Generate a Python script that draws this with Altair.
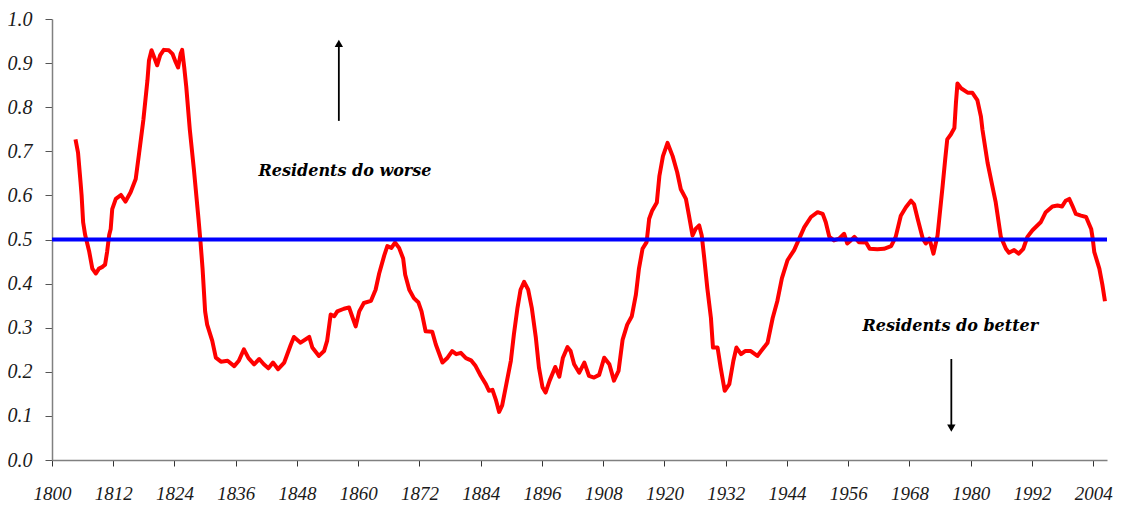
import altair as alt
import pandas as pd

years = [1804.6, 1805.1, 1805.6, 1805.8, 1806.1, 1806.5, 1807.3, 1807.9, 1808.6, 1809.2,
         1809.9, 1810.4, 1810.8, 1811.2, 1811.5, 1811.8, 1812.5, 1813.5, 1814.4, 1815.4,
         1816.4, 1817.0, 1817.9, 1818.7, 1819.0, 1819.5, 1820.0, 1820.6, 1821.2, 1821.9,
         1822.9, 1823.6, 1824.2, 1824.7, 1825.2, 1825.5, 1825.9, 1826.3, 1827.0, 1827.8,
         1828.7, 1829.1, 1829.5, 1830.0, 1830.4, 1831.4, 1832.1, 1833.1, 1834.4, 1835.7,
         1836.6, 1837.6, 1838.5, 1839.6, 1840.6, 1841.5, 1842.4, 1843.3, 1844.3, 1845.5,
         1846.8, 1847.4, 1848.7, 1850.4, 1851.0, 1852.3, 1853.3, 1853.9, 1854.6, 1855.3,
         1855.9, 1857.2, 1858.2, 1858.8, 1859.5, 1860.2, 1861.1, 1862.5, 1863.4, 1864.1,
         1865.1, 1865.7, 1866.5, 1867.2, 1868.0, 1868.8, 1869.2, 1870.0, 1870.9, 1871.8,
         1872.4, 1873.2, 1874.5, 1875.2, 1876.5, 1877.5, 1878.4, 1879.2, 1880.1, 1881.1,
         1882.1, 1883.0, 1884.0, 1885.0, 1885.6, 1886.3, 1887.0, 1887.6, 1888.2, 1888.9,
         1889.9, 1890.5, 1891.2, 1891.8, 1892.5, 1893.3, 1894.0, 1894.8, 1895.4, 1896.1,
         1896.7, 1897.5, 1898.6, 1899.4, 1900.1, 1901.0, 1901.6, 1902.3, 1903.3, 1904.3,
         1905.2, 1906.2, 1907.2, 1908.2, 1909.2, 1910.1, 1911.0, 1911.8, 1912.7, 1913.6,
         1914.4, 1915.0, 1915.7, 1916.5, 1917.0, 1917.6, 1918.5, 1919.0, 1919.7, 1920.6,
         1921.6, 1922.5, 1923.2, 1924.2, 1924.8, 1925.5, 1926.1, 1926.8, 1927.3, 1927.8,
         1928.4, 1929.1, 1929.5, 1930.4, 1931.0, 1931.8, 1932.7, 1933.5, 1934.1, 1935.0,
         1935.8, 1936.9, 1938.2, 1939.2, 1940.2, 1941.2, 1942.1, 1943.0, 1944.1, 1945.4,
         1946.4, 1947.4, 1948.7, 1950.0, 1951.0, 1951.6, 1952.3, 1953.2, 1954.2, 1955.2,
         1955.8, 1956.5, 1957.2, 1958.1, 1959.5, 1960.2, 1961.7, 1963.0, 1964.4, 1965.3,
         1966.3, 1967.3, 1968.3, 1968.9, 1969.6, 1970.6, 1971.2, 1971.9, 1972.7, 1973.5,
         1974.5, 1975.0, 1975.4, 1976.1, 1976.8, 1977.1, 1977.4, 1978.1, 1979.4, 1980.3,
         1981.3, 1982.0, 1982.3, 1983.3, 1984.1, 1984.9, 1985.9, 1986.9, 1987.5, 1988.5,
         1989.4, 1990.3, 1991.1, 1992.1, 1993.7, 1994.7, 1996.0, 1997.0, 1997.9, 1998.6,
         1999.3, 1999.9, 2000.6, 2001.6, 2002.6, 2003.6, 2003.9, 2004.2, 2005.2, 2005.8,
         2006.3]

values = [0.727, 0.697, 0.629, 0.600, 0.539, 0.510, 0.472, 0.434, 0.423, 0.434,
          0.438, 0.443, 0.472, 0.510, 0.524, 0.569, 0.592, 0.601, 0.586, 0.607,
          0.637, 0.690, 0.771, 0.861, 0.906, 0.929, 0.914, 0.895, 0.918, 0.930,
          0.929, 0.921, 0.903, 0.890, 0.921, 0.930, 0.891, 0.847, 0.749, 0.659,
          0.547, 0.494, 0.434, 0.337, 0.307, 0.270, 0.232, 0.223, 0.225, 0.213,
          0.225, 0.251, 0.231, 0.217, 0.229, 0.217, 0.208, 0.221, 0.206, 0.221,
          0.262, 0.279, 0.266, 0.279, 0.255, 0.236, 0.247, 0.270, 0.330, 0.326,
          0.337, 0.343, 0.346, 0.326, 0.303, 0.337, 0.356, 0.361, 0.386, 0.423,
          0.464, 0.485, 0.481, 0.493, 0.481, 0.457, 0.420, 0.386, 0.367, 0.357,
          0.337, 0.292, 0.291, 0.262, 0.221, 0.232, 0.247, 0.240, 0.243, 0.231,
          0.226, 0.213, 0.191, 0.172, 0.157, 0.159, 0.135, 0.109, 0.124, 0.165,
          0.225, 0.285, 0.345, 0.386, 0.404, 0.386, 0.345, 0.277, 0.210, 0.165,
          0.153, 0.180, 0.211, 0.189, 0.232, 0.256, 0.247, 0.217, 0.198, 0.221,
          0.191, 0.187, 0.193, 0.232, 0.217, 0.180, 0.202, 0.273, 0.307, 0.326,
          0.375, 0.434, 0.479, 0.494, 0.547, 0.566, 0.584, 0.644, 0.689, 0.719,
          0.689, 0.652, 0.614, 0.592, 0.554, 0.509, 0.524, 0.532, 0.509, 0.457,
          0.389, 0.322, 0.255, 0.255, 0.210, 0.157, 0.172, 0.225, 0.255, 0.240,
          0.247, 0.247, 0.236, 0.251, 0.266, 0.322, 0.360, 0.412, 0.453, 0.476,
          0.502, 0.528, 0.551, 0.562, 0.558, 0.539, 0.506, 0.498, 0.502, 0.513,
          0.491, 0.498, 0.506, 0.494, 0.493, 0.479, 0.478, 0.479, 0.485, 0.506,
          0.554, 0.573, 0.588, 0.580, 0.547, 0.502, 0.491, 0.502, 0.468, 0.509,
          0.622, 0.682, 0.727, 0.738, 0.753, 0.809, 0.854, 0.843, 0.833, 0.833,
          0.816, 0.779, 0.749, 0.674, 0.629, 0.584, 0.506, 0.479, 0.470, 0.476,
          0.468, 0.479, 0.506, 0.521, 0.539, 0.562, 0.575, 0.577, 0.575, 0.588,
          0.592, 0.577, 0.558, 0.554, 0.551, 0.524, 0.502, 0.472, 0.434, 0.397,
          0.360]

x_ticks = list(range(1800, 2005, 12))
y_ticks = [0.0, 0.1, 0.2, 0.3, 0.4, 0.5, 0.6, 0.7, 0.8, 0.9, 1.0]
x_domain = [1800, 2006.7]
y_domain = [0.0, 1.0]
reference_level = [0.5]

labels = ["Residents do worse", "Residents do better"]
label_years = [1857.4, 1976.0]
label_values = [0.656, 0.303]

arrow_years = [1856.2, 1976.2]
arrow_from = [0.769, 0.229]
arrow_to = [0.945, 0.072]
arrow_shapes = ["triangle-up", "triangle-down"]

series = pd.DataFrame({"year": years, "value": values})
ref = pd.DataFrame({"y": reference_level, "x0": [x_domain[0]], "x1": [x_domain[1]]})
texts = pd.DataFrame({"label": labels, "year": label_years, "value": label_values})
arrows = pd.DataFrame({"year": arrow_years, "y0": arrow_from, "y1": arrow_to, "shape": arrow_shapes})

FONT = "Liberation Serif"

x_scale = alt.Scale(domain=x_domain, nice=False, zero=False)
y_scale = alt.Scale(domain=y_domain, nice=False)

x_axis = alt.Axis(values=x_ticks, format="d", grid=False, title=None,
                  labelFont=FONT, labelFontStyle="italic", labelFontSize=19,
                  labelColor="#1a1a1a", labelPadding=18, tickSize=6,
                  domainColor="#808080", tickColor="#333333", domainWidth=1.5,
                  labelFlush=False, labelOverlap=False)
y_axis = alt.Axis(values=y_ticks, format=".1f", grid=False, title=None,
                  labelFont=FONT, labelFontStyle="italic", labelFontSize=20,
                  labelColor="#1a1a1a", labelPadding=13, tickSize=7,
                  domainColor="#808080", tickColor="#555555", domainWidth=1.5)

line = alt.Chart(series).mark_line(color="#FF0000", strokeWidth=4, strokeJoin="round").encode(
    x=alt.X("year:Q", scale=x_scale, axis=x_axis),
    y=alt.Y("value:Q", scale=y_scale, axis=y_axis),
)

ref_line = alt.Chart(ref).mark_rule(color="#0000FF", strokeWidth=4).encode(
    x=alt.X("x0:Q", scale=x_scale), x2="x1:Q", y=alt.Y("y:Q", scale=y_scale)
)

text = alt.Chart(texts).mark_text(font="DejaVu Serif", fontStyle="italic", fontWeight="bold",
                                  fontSize=16, color="#000000").encode(
    x=alt.X("year:Q", scale=x_scale), y=alt.Y("value:Q", scale=y_scale), text="label:N"
)

stems = alt.Chart(arrows).mark_rule(color="#000000", strokeWidth=1.8).encode(
    x=alt.X("year:Q", scale=x_scale), y=alt.Y("y0:Q", scale=y_scale), y2="y1:Q"
)

heads = alt.Chart(arrows).mark_point(filled=True, color="#000000", size=70, opacity=1).encode(
    x=alt.X("year:Q", scale=x_scale), y=alt.Y("y1:Q", scale=y_scale),
    shape=alt.Shape("shape:N", scale=None, legend=None)
)

chart = alt.layer(line, ref_line, stems, heads, text).properties(
    width=1055, height=441,
    autosize=alt.AutoSizeParams(type="none"),
    padding={"left": 44, "top": 11, "right": 6, "bottom": 44},
    background="white",
).configure_view(stroke=None)

chart.save("out.html", embed_options={"renderer": "svg", "actions": False})
